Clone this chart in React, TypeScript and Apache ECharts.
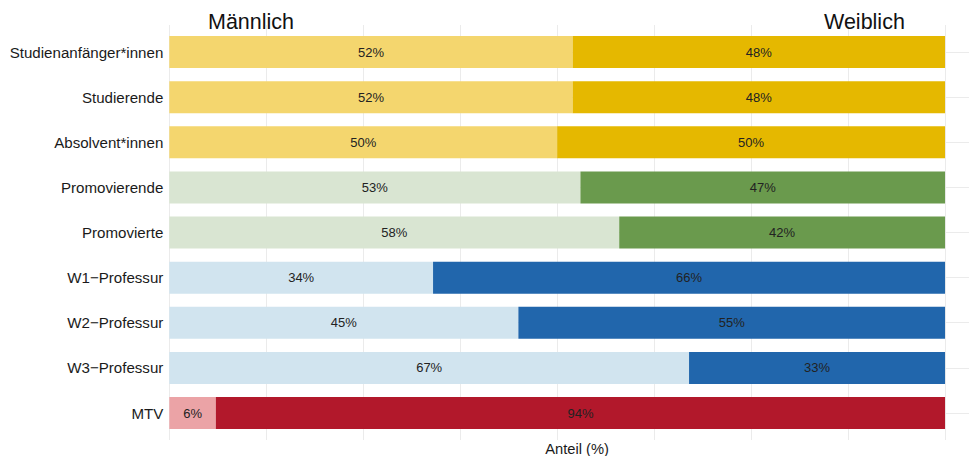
import React, { useEffect, useRef } from "react";
import * as echarts from "echarts";

const categories = [
  "Studienanfänger*innen",
  "Studierende",
  "Absolvent*innen",
  "Promovierende",
  "Promovierte",
  "W1−Professur",
  "W2−Professur",
  "W3−Professur",
  "MTV",
];
const maleValues = [52, 52, 50, 53, 58, 34, 45, 67, 6];
const femaleValues = [48, 48, 50, 47, 42, 66, 55, 33, 94];
const maleColors = ["#F4D66E", "#F4D66E", "#F4D66E", "#D9E5D2", "#D9E5D2", "#D1E4EF", "#D1E4EF", "#D1E4EF", "#EBA3A6"];
const femaleColors = ["#E5B800", "#E5B800", "#E5B800", "#6A9A4D", "#6A9A4D", "#2166AC", "#2166AC", "#2166AC", "#B2182B"];
const xTicksInterval = 12.5;
const legendLeft = "Männlich";
const legendRight = "Weiblich";
const axisTitle = "Anteil (%)";

const FONT = "'Liberation Sans', Arial, Helvetica, sans-serif";
const XMAX = 103.09;

export default function App() {
  const ref = useRef<HTMLDivElement>(null);
  useEffect(() => {
    if (!ref.current) return;
    const chart = echarts.init(ref.current, undefined, { renderer: "svg" });
    const gridColor = "#EBEBEB";
    chart.setOption({
      animation: false,
      backgroundColor: "#ffffff",
      textStyle: { fontFamily: FONT },
      grid: [
        { left: 169.3, right: 0, top: 25, bottom: 16 },
        { left: 169.3, right: 0, top: 29.5, bottom: 20.4 },
      ],
      xAxis: [
        {
          gridIndex: 0,
          type: "value",
          min: 0,
          max: XMAX,
          interval: xTicksInterval,
          axisLine: { show: false },
          axisTick: { show: false },
          axisLabel: { show: false },
          splitLine: { show: true, showMaxLine: false, lineStyle: { color: gridColor, width: 1 } },
        },
        {
          gridIndex: 1,
          type: "value",
          min: 0,
          max: XMAX,
          axisLine: { show: false },
          axisTick: { show: false },
          axisLabel: { show: false },
          splitLine: { show: false },
        },
      ],
      yAxis: [
        {
          gridIndex: 0,
          type: "value",
          min: -0.6,
          max: categories.length - 1 + 0.6,
          inverse: true,
          axisLine: { show: false },
          axisTick: { show: false },
          axisLabel: { show: false },
          splitLine: { show: false },
        },
        {
          gridIndex: 1,
          type: "category",
          data: categories,
          inverse: true,
          axisLine: { show: false },
          axisTick: { show: false },
          splitLine: { show: false },
          axisLabel: { color: "#1A1A1A", fontSize: 15.1, margin: 6, fontFamily: FONT },
        },
      ],
      series: [
        {
          type: "line",
          xAxisIndex: 0,
          yAxisIndex: 0,
          data: [],
          silent: true,
          z: 0,
          markLine: {
            silent: true,
            z: 0,
            symbol: ["none", "none"],
            label: { show: false },
            lineStyle: { color: gridColor, type: "solid", width: 1 },
            data: categories.map((_, i) => ({ yAxis: i })),
          },
        },
        {
          type: "bar",
          name: legendLeft,
          stack: "total",
          xAxisIndex: 1,
          yAxisIndex: 1,
          barWidth: 32,
          z: 10,
          data: maleValues.map((v, i) => ({ value: v, itemStyle: { color: maleColors[i] } })),
          label: {
            show: true,
            position: "inside",
            formatter: "{c}%",
            color: "#222222",
            fontSize: 13,
            fontFamily: FONT,
          },
        },
        {
          type: "bar",
          name: legendRight,
          stack: "total",
          xAxisIndex: 1,
          yAxisIndex: 1,
          barWidth: 32,
          z: 10,
          data: femaleValues.map((v, i) => ({ value: v, itemStyle: { color: femaleColors[i] } })),
          label: {
            show: true,
            position: "inside",
            formatter: "{c}%",
            color: "#222222",
            fontSize: 13,
            fontFamily: FONT,
          },
        },
      ],
      graphic: [
        {
          type: "text",
          left: 208,
          top: 11,
          style: { text: legendLeft, fontSize: 21.5, fill: "#111111", fontFamily: FONT },
          z: 20,
        },
        {
          type: "text",
          left: 824,
          top: 11,
          style: { text: legendRight, fontSize: 21.5, fill: "#111111", fontFamily: FONT },
          z: 20,
        },
        {
          type: "text",
          x: 577,
          y: 449,
          style: {
            text: axisTitle,
            fontSize: 14.7,
            fill: "#1A1A1A",
            fontFamily: FONT,
            align: "center",
            verticalAlign: "middle",
          },
          z: 20,
        },
      ],
    });
    return () => chart.dispose();
  }, []);
  return (
    <div
      ref={ref}
      style={{ position: "absolute", left: 0, top: 0, width: 969, height: 456 }}
    />
  );
}
